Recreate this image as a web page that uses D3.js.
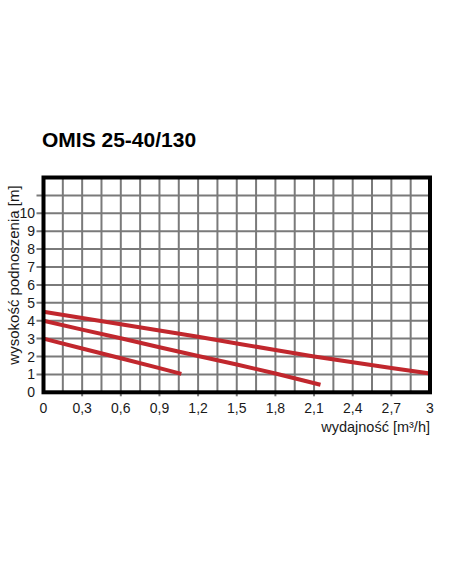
<!DOCTYPE html>
<html><head><meta charset="utf-8">
<script src="https://cdn.jsdelivr.net/npm/d3@7"></script>
<style>body{margin:0;background:#fff;} svg{display:block;}</style>
</head><body>
<svg id="c" width="452" height="584"></svg>
<script>
const title = "OMIS 25-40/130";
const xLabel = "wydajność [m³/h]";
const yLabel = "wysokość podnoszenia [m]";
const xTickValues = [0, 0.3, 0.6, 0.9, 1.2, 1.5, 1.8, 2.1, 2.4, 2.7, 3];
const xTickLabels = ["0","0,3","0,6","0,9","1,2","1,5","1,8","2,1","2,4","2,7","3"];
const yTickValues = [0,1,2,3,4,5,6,7,8,9,10];
const seriesHighQ = [0, 0.3, 0.6, 0.9, 1.2, 1.5, 1.8, 2.1, 2.4, 2.7, 3.0];
const seriesHighH = [4.5, 4.15, 3.8, 3.45, 3.1, 2.73, 2.36, 2.0, 1.68, 1.36, 1.05];
const seriesMidQ = [0, 0.3, 0.6, 0.9, 1.2, 1.5, 1.8, 2.15];
const seriesMidH = [4.0, 3.5, 3.02, 2.52, 2.03, 1.55, 1.05, 0.42];
const seriesLowQ = [0, 0.3, 0.6, 0.9, 1.07];
const seriesLowH = [3.0, 2.45, 1.9, 1.35, 1.03];

const svg = d3.select("#c");
const x = d3.scaleLinear().domain([0, 3]).range([43.5, 430]);
const y = d3.scaleLinear().domain([0, 12]).range([392.3, 177.5]);
const font = "'Liberation Sans', Arial, sans-serif";

svg.append("text").attr("x", 42).attr("y", 147).attr("font-family", font)
  .attr("font-weight", "bold").attr("font-size", 21).attr("fill", "#000").text(title);

// grid
const gx = d3.range(1, 20).map(i => i * 0.15);
svg.append("g").selectAll("line").data(gx).join("line")
  .attr("x1", d => x(d)).attr("x2", d => x(d))
  .attr("y1", y(12)).attr("y2", y(0))
  .attr("stroke", "#7a7a7a").attr("stroke-width", 2);
const gy = d3.range(1, 12);
svg.append("g").selectAll("line").data(gy).join("line")
  .attr("x1", x(0) - 7).attr("x2", x(3))
  .attr("y1", d => y(d)).attr("y2", d => y(d))
  .attr("stroke", "#7a7a7a").attr("stroke-width", 2);
// x ticks below frame
svg.append("g").selectAll("line").data(xTickValues.slice(1, -1)).join("line")
  .attr("x1", d => x(d)).attr("x2", d => x(d))
  .attr("y1", y(0)).attr("y2", y(0) + 4)
  .attr("stroke", "#7a7a7a").attr("stroke-width", 2);

// curves
const line = d3.line().x(d => x(d[0])).y(d => y(d[1]));
const series = [[seriesHighQ, seriesHighH], [seriesMidQ, seriesMidH], [seriesLowQ, seriesLowH]];
svg.append("g").selectAll("path").data(series).join("path")
  .attr("d", s => line(s[0].map((q, i) => [q, s[1][i]])))
  .attr("fill", "none").attr("stroke", "#c1272d").attr("stroke-width", 4)
  .attr("stroke-linecap", "butt");

// frame
svg.append("rect").attr("x", x(0)).attr("y", y(12))
  .attr("width", x(3) - x(0)).attr("height", y(0) - y(12))
  .attr("fill", "none").attr("stroke", "#000").attr("stroke-width", 4);

// tick labels
svg.append("g").selectAll("text").data(yTickValues).join("text")
  .attr("x", 35).attr("y", d => y(d)).attr("dy", "0.36em")
  .attr("text-anchor", "end").attr("font-family", font).attr("font-size", 14)
  .attr("fill", "#1a1a1a").text(d => d);
svg.append("g").selectAll("text").data(xTickValues).join("text")
  .attr("x", d => x(d)).attr("y", 413)
  .attr("text-anchor", "middle").attr("font-family", font).attr("font-size", 14)
  .attr("fill", "#1a1a1a").text((d, i) => xTickLabels[i]);

svg.append("text").attr("x", 430).attr("y", 432).attr("text-anchor", "end")
  .attr("font-family", font).attr("font-size", 14.5).attr("fill", "#1a1a1a").text(xLabel);
svg.append("text").attr("transform", "translate(19,275) rotate(-90)")
  .attr("text-anchor", "middle").attr("font-family", font).attr("font-size", 15)
  .attr("fill", "#1a1a1a").text(yLabel);
</script>
</body></html>
